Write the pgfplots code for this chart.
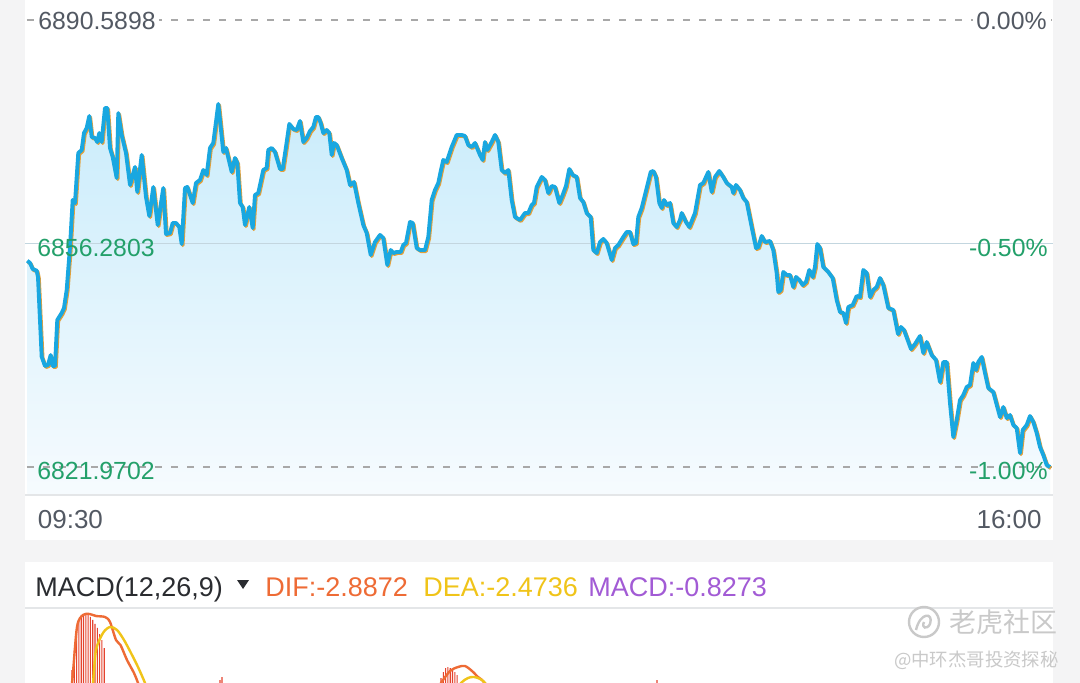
\documentclass[border=0pt]{standalone}
\usepackage{fontspec}
\setmainfont{Liberation Sans}
\newfontfamily\cjk{Noto Sans CJK SC}
\usepackage{pgfplots}
\pgfplotsset{compat=1.18}
\usepackage{pgfplotstable}

\definecolor{bggray}{HTML}{F4F4F5}
\definecolor{linblue}{HTML}{19A7E0}
\definecolor{linorange}{HTML}{E4A03A}
\definecolor{filltop}{HTML}{CAECFB}
\definecolor{fillbot}{HTML}{F6FBFE}
\definecolor{dashgray}{HTML}{A8A8A8}
\definecolor{midline}{HTML}{C3D6DF}
\definecolor{axline}{HTML}{E4E6E8}
\definecolor{tgray}{HTML}{535963}
\definecolor{tgreen}{HTML}{23A06A}
\definecolor{tblack}{HTML}{2A2C30}
\definecolor{difcol}{HTML}{EE6B35}
\definecolor{deacol}{HTML}{F0C419}
\definecolor{macdcol}{HTML}{A25BD5}
\definecolor{barred}{HTML}{E5432E}
\definecolor{wmgray}{HTML}{C9C9C9}

\pgfplotstableread{
x y
27.3 6853.64
30 6853.29
32.7 6852.37
36.7 6852.11
38 6851.14
41.7 6838.90
45 6837.48
48 6837.63
50.7 6839.16
52.7 6837.48
55 6837.48
57.3 6844.54
61.7 6845.61
64 6846.38
66.7 6849.14
70 6855.74
72.7 6862.96
75 6862.50
78.3 6870.17
81.7 6870.63
84 6873.24
86.7 6874.01
89.3 6875.85
91.7 6872.63
95 6872.48
97.3 6871.86
99.3 6873.24
101.7 6871.86
105 6877.08
107.3 6877.08
110 6870.94
112.7 6869.56
116.7 6866.34
118.3 6876.31
121.7 6872.94
126 6870.17
130 6865.26
135 6868.02
137.3 6864.19
141.7 6869.87
146 6863.42
149.3 6860.50
153.3 6864.95
157.7 6859.12
163.3 6864.80
166 6857.74
170 6857.89
172.7 6859.43
176 6859.43
179.3 6858.81
181.7 6856.20
185 6864.80
187.3 6864.95
192.7 6862.50
196 6865.57
200 6866.03
203.3 6867.56
206.7 6866.80
210 6870.94
213.3 6871.71
218.3 6877.70
223.3 6870.33
226 6870.94
231.7 6867.26
235 6869.41
237.3 6868.64
240 6862.50
242.7 6861.88
245 6859.12
249.3 6861.88
252.7 6858.66
255 6863.73
258.3 6864.03
263.3 6867.56
266.7 6867.87
268.3 6870.63
271.7 6870.94
275 6870.33
280 6867.72
282.7 6867.72
286 6871.09
289.3 6874.63
293.3 6873.86
296.7 6873.70
300 6875.09
303.3 6871.86
306.7 6872.48
310 6873.55
313.3 6874.16
316 6875.70
318.3 6875.70
320.7 6874.78
323.3 6873.24
326.7 6873.70
329.3 6873.24
331.7 6869.87
334 6871.71
336.7 6871.40
341.7 6869.41
346.7 6867.56
350 6865.26
354 6865.72
358.3 6862.50
363.3 6859.12
366.7 6857.89
370.7 6854.52
375 6856.51
380 6857.59
383.3 6857.12
387.3 6852.98
390.7 6855.28
393.3 6854.82
396.7 6854.98
400.7 6854.98
403.3 6856.05
406 6856.36
410 6859.58
412.7 6859.43
416.7 6855.59
420 6855.28
425 6855.28
428.3 6857.28
431.7 6862.96
435 6864.49
438.3 6865.57
441 6867.56
443.3 6869.10
446.7 6868.79
451.7 6871.09
456.7 6872.94
461.7 6872.94
465 6872.78
468.3 6871.40
471.7 6871.09
475 6871.71
480 6869.87
482.7 6869.10
485 6871.86
487.3 6870.63
491.7 6871.86
495 6872.94
498.3 6871.86
501.7 6867.56
505 6867.10
508.3 6867.56
511.7 6862.96
515 6860.35
520 6859.89
525 6860.96
528.3 6860.96
531.7 6862.19
534 6862.50
536.7 6864.95
541.7 6866.49
545 6866.03
548.3 6864.03
551.7 6865.11
555 6864.95
559.3 6862.50
562.7 6863.73
566 6865.11
569.3 6867.72
572.7 6866.80
576.7 6866.49
580 6863.27
583.3 6862.65
586.7 6860.96
590.7 6860.35
593.3 6855.28
596.7 6854.82
600 6856.51
603.3 6856.97
606.7 6856.36
611.7 6853.75
615 6855.59
618.3 6856.05
623.3 6857.28
626.7 6858.05
630 6858.05
633.3 6856.20
636 6856.36
638.3 6860.35
641.7 6861.73
646.7 6864.80
650.7 6867.26
653.3 6867.41
656 6866.49
659.3 6862.50
661.7 6861.73
664 6862.96
666.7 6862.19
670 6862.50
673.3 6859.43
676.7 6858.81
680 6859.89
681.7 6860.96
686 6859.58
689.3 6858.81
695 6860.96
700 6865.26
703.3 6865.57
708.3 6867.26
711.7 6864.19
715 6866.49
719.3 6867.41
723.3 6866.49
726.7 6865.57
731.7 6864.95
733.3 6864.03
736 6865.26
740 6864.49
743.3 6863.27
746.7 6862.65
751.7 6858.81
756 6855.59
758.3 6855.74
761.7 6857.43
765 6856.51
770 6856.66
773.3 6855.28
776.7 6851.75
778.3 6848.84
780.7 6849.14
783.3 6851.91
786.7 6851.45
790 6851.45
793.3 6849.60
796 6851.14
799.3 6850.68
802.7 6849.91
806 6850.37
809.3 6852.21
812.7 6851.14
815 6852.67
817.3 6856.20
820 6855.59
823.3 6852.67
828.3 6851.91
832.7 6850.98
836.7 6847.61
840 6845.77
843.3 6845.61
846 6844.08
848.3 6846.53
852.7 6846.84
856.7 6848.22
860 6848.07
863.3 6852.21
866.7 6851.75
870 6848.07
873.3 6849.14
876.7 6849.60
880 6850.98
883.3 6849.91
888.3 6846.38
893.3 6846.07
898 6842.39
901 6843.46
904 6843.00
911 6840.08
915 6840.85
920 6842.08
923.3 6839.47
926.7 6841.16
931.7 6839.16
936 6838.40
940 6835.02
943.3 6838.09
946.7 6838.09
950 6831.79
953.3 6826.58
956.7 6829.19
960 6832.26
963.3 6833.02
966.7 6834.25
970 6834.56
973.3 6837.94
976 6836.86
978.3 6838.09
981.7 6838.86
985 6836.40
988.3 6834.10
993.3 6833.48
1000 6829.65
1003.3 6831.18
1006.7 6829.49
1010 6829.95
1013.3 6828.42
1016.7 6827.96
1020 6824.12
1022.7 6827.65
1026.7 6828.42
1030 6829.80
1033.3 6828.88
1036.7 6827.19
1040 6825.04
1043.3 6823.81
1046.7 6822.28
1050 6821.97
}\pricetable

\newcommand{\ylab}{\fontsize{12.4}{14}\selectfont}
\newcommand{\tlab}{\fontsize{13}{15}\selectfont}
\newcommand{\mlab}{\fontsize{13.5}{16}\selectfont}

\begin{document}
\begin{tikzpicture}[x=0.5pt,y=-0.5pt]
% backgrounds
\fill[bggray] (0,0) rectangle (1080,683);
\fill[white] (25,0) rectangle (1053,540);
\fill[white] (25,562) rectangle (1053,683);
\coordinate (mainSW) at (25,494);
\coordinate (macdSW) at (25,683);

% main price axis
\begin{scope}[x=1cm,y=1cm]
\begin{axis}[at={(mainSW)}, anchor=south west, scale only axis,
  width=514pt, height=247pt,
  xmin=25, xmax=1053, ymin=6817.83, ymax=6893.66,
  axis lines=none, clip=true]
  \addplot[draw=none, top color=filltop, bottom color=fillbot, forget plot]
     table {\pricetable} |- (axis cs:27.3,6817.83) -- cycle;
  \draw[dashgray, line width=1.45pt, dash pattern=on 3.6pt off 4.4pt] (axis cs:27,6890.5898) -- (axis cs:1052,6890.5898);
  \draw[dashgray, line width=1.45pt, dash pattern=on 3.6pt off 4.4pt] (axis cs:27,6821.9702) -- (axis cs:1052,6821.9702);
  \draw[midline, line width=0.6pt] (axis cs:25,6856.2803) -- (axis cs:1053,6856.2803);
  \addplot[linorange, line width=1.8pt, line join=round, xshift=0.5pt, yshift=-0.6pt] table {\pricetable};
  \addplot[linblue, line width=1.95pt, line join=round] table {\pricetable};
\end{axis}
\end{scope}

% bottom axis line
\draw[axline, line width=1pt] (25,494.5) -- (1053,494.5);

% y labels
\node[anchor=base west, inner xsep=1.5pt, inner ysep=1pt, fill=white, text=tgray, font=\ylab] at (35,30) {6890.5898};
\node[anchor=base west, inner sep=0pt, text=tgreen, font=\ylab] at (37,256.5) {6856.2803};
\node[anchor=base west, inner sep=0pt, text=tgreen, font=\ylab] at (37,480) {6821.9702};
\node[anchor=base east, inner xsep=1.5pt, inner ysep=1pt, fill=white, text=tgray, font=\ylab] at (1050,30) {0.00\%};
\node[anchor=base east, inner sep=0pt, text=tgreen, font=\ylab] at (1048,256.5) {-0.50\%};
\node[anchor=base east, inner sep=0pt, text=tgreen, font=\ylab] at (1048,480) {-1.00\%};

% time labels
\node[anchor=base west, inner sep=0pt, text=tgray, font=\tlab] at (37.5,528) {09:30};
\node[anchor=base east, inner sep=0pt, text=tgray, font=\tlab] at (1042,528) {16:00};

% MACD panel
\draw[axline, line width=0.8pt] (25,608) -- (1053,608);
\node[anchor=base west, inner sep=0pt, text=tblack, font=\mlab] at (35,596) {MACD(12,26,9)};
\fill[tblack] (237,580) -- (249,580) -- (243,589) -- cycle;
\node[anchor=base west, inner sep=0pt, text=difcol, font=\mlab] at (265,596) {DIF:-2.8872};
\node[anchor=base west, inner sep=0pt, text=deacol, font=\mlab] at (423,596) {DEA:-2.4736};
\node[anchor=base west, inner sep=0pt, text=macdcol, font=\mlab] at (588,596) {MACD:-0.8273};

\begin{scope}[x=1cm,y=1cm]
\begin{axis}[at={(macdSW)}, anchor=south west, scale only axis,
  width=514pt, height=37pt,
  xmin=25, xmax=1053, ymin=0, ymax=7.4,
  axis lines=none, clip=true]
  \addplot[ybar, bar width=0.55pt, bar shift=0pt, fill=barred, draw=none] coordinates {
    (72,1.3) (74.3,3.3) (76.6,5.3) (78.9,6.3) (81.2,6.8) (83.5,6.9) (85.8,6.9) (88.1,6.8) (90.4,6.6)
    (92.7,6.3) (95,5.9) (97.3,5.5) (99.6,4.9) (101.9,4.3) (104.2,3.5)
    (220,0.3) (222,0.6)
    (441,0.5) (443.3,1.1) (445.6,1.5) (447.9,1.6) (450.2,1.5) (452.5,1.3) (454.8,1.1) (457.1,0.8)
    (657,0.3)};
  \addplot[difcol, line width=1.2pt, smooth] coordinates {
    (68,-1.5) (72,0) (77,5.6) (83,6.8) (89.5,6.9) (96,6.7) (105,6.6) (110,6.1)
    (116,4.3) (120.5,3.8) (127,2.3) (134,1.0) (138,0) (142,-1.2)};
  \addplot[difcol, line width=1.2pt, smooth] coordinates {
    (434,-1.2) (441,0) (450,1.2) (458,1.6) (465,1.7) (472,1.2) (478,0.6) (482,0.3) (490,-0.6)};
  \addplot[deacol, line width=1.2pt, smooth] coordinates {
    (90,-1.5) (93,0) (96,3.3) (103,5.0) (110,5.6) (117,5.3) (124,4.3) (131,3.0)
    (138,1.6) (145,0) (149,-1.2)};
  \addplot[deacol, line width=1.2pt, smooth] coordinates {
    (454,-1.2) (461,0) (468,0.5) (474,0.6) (482,0.3) (490,-0.6)};
\end{axis}
\end{scope}

% watermark
\draw[wmgray, line width=1.2pt] (924,622) circle (15);
\draw[wmgray, line width=1.2pt] (916,630) .. controls (920,612) and (934,612) .. (930,624) .. controls (927,630) and (921,628) .. (924,622);
\node[anchor=base west, inner sep=0pt, text=wmgray, font={\cjk\fontsize{13.5}{15}\selectfont}] at (949,632) {老虎社区};
\node[anchor=base east, inner sep=0pt, text=wmgray, font={\cjk\fontsize{9.2}{11}\selectfont}] at (1059,666) {@中环杰哥投资探秘};

\pgfresetboundingbox
\path (0,0) rectangle (1080,683);
\end{tikzpicture}
\end{document}
